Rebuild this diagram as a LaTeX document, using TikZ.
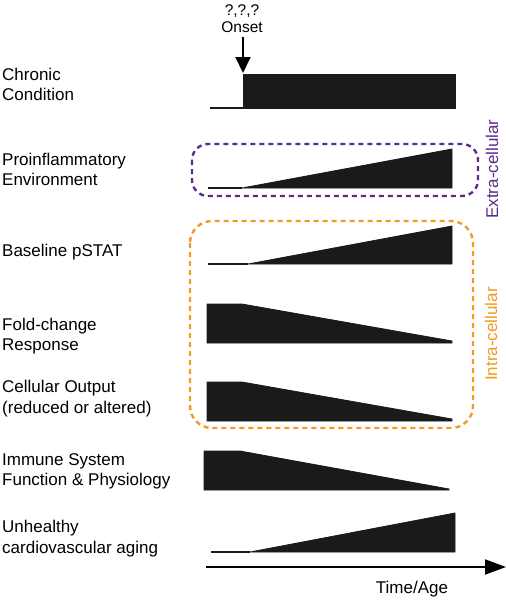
\documentclass[tikz,border=0pt]{standalone}
\usepackage{fontspec}
\setmainfont{Liberation Sans}
\usetikzlibrary{arrows.meta}
\definecolor{extrapurple}{HTML}{5E2A8C}
\definecolor{intraorange}{HTML}{F29A22}
\definecolor{barfill}{HTML}{1A1A1A}
\begin{document}
\begin{tikzpicture}[x=1pt,y=-1pt,
  lbl/.style={anchor=west,align=left,font=\fontsize{17}{20.6}\selectfont,inner sep=0pt},
  side/.style={rotate=90,font=\fontsize{17}{20}\selectfont,inner sep=0pt},
  bar/.style={fill=barfill,draw=barfill,line width=0.8pt},
  base/.style={draw=barfill,line width=1.6pt},
  dashbox/.style={line width=2.4pt,dash pattern=on 5pt off 4pt,rounded corners=16pt}]
\useasboundingbox (0,0) rectangle (506,600);
% labels
\node[lbl] (l1) at (2,84.5) {Chronic\\Condition};
\node[lbl] (l2) at (2,169.5) {Proinflammatory\\Environment};
\node[lbl] (l3) at (2,252) {Baseline pSTAT};
\node[lbl] (l4) at (2,336) {Fold-change\\Response};
\node[lbl] (l5) at (2,398.5) {Cellular Output\\(reduced or altered)};
\node[lbl] (l6) at (2,471.5) {Immune System\\Function \& Physiology};
\node[lbl] (l7) at (2,538.5) {Unhealthy\\cardiovascular aging};
% onset
\node[font=\fontsize{15.5}{17}\selectfont,align=center,inner sep=0pt] (onset) at (242,19) {?,?,?\\Onset};
\coordinate (onsettip) at (243,73);
\draw[line width=2pt,-{Triangle[length=16pt,width=15pt]}] (243,37) -- (onsettip);
% chronic condition
\draw[base] (210,108) -- (243,108);
\fill[bar] (243,74) rectangle (455,108);
% proinflammatory
\draw[base] (208,188) -- (242,188);
\fill[bar] (242,188) -- (452,149) -- (452,188) -- cycle;
% baseline pSTAT
\draw[base] (208,264) -- (248,264);
\fill[bar] (248,264) -- (452,226) -- (452,264) -- cycle;
% fold-change
\fill[bar] (207,304) -- (242,304) -- (452,341) -- (452,343) -- (207,343) -- cycle;
% cellular output
\fill[bar] (207,382) -- (242,382) -- (452,419) -- (452,421) -- (207,421) -- cycle;
% immune
\fill[bar] (204,451) -- (240,451) -- (449,489) -- (449,490) -- (204,490) -- cycle;
% unhealthy
\draw[base] (211,552) -- (250,552);
\fill[bar] (250,552) -- (455,513) -- (455,552) -- cycle;
% boxes
\draw[dashbox,extrapurple] (192,144) rectangle (478,196);
\node[side,text=extrapurple] (extra) at (492,169) {Extra-cellular};
\draw[dashbox,intraorange,rounded corners=22pt] (190,221) rectangle (473,428);
\node[side,text=intraorange] (intra) at (491,334) {Intra-cellular};
% time axis
\coordinate (t0) at (206,567);
\coordinate (t1) at (506,567);
\draw[line width=2pt,-{Triangle[length=21pt,width=15pt]}] (t0) -- (t1);
\node[font=\fontsize{17}{20}\selectfont,inner sep=0pt] (time) at (412,589) {Time/Age};
\end{tikzpicture}
\end{document}
